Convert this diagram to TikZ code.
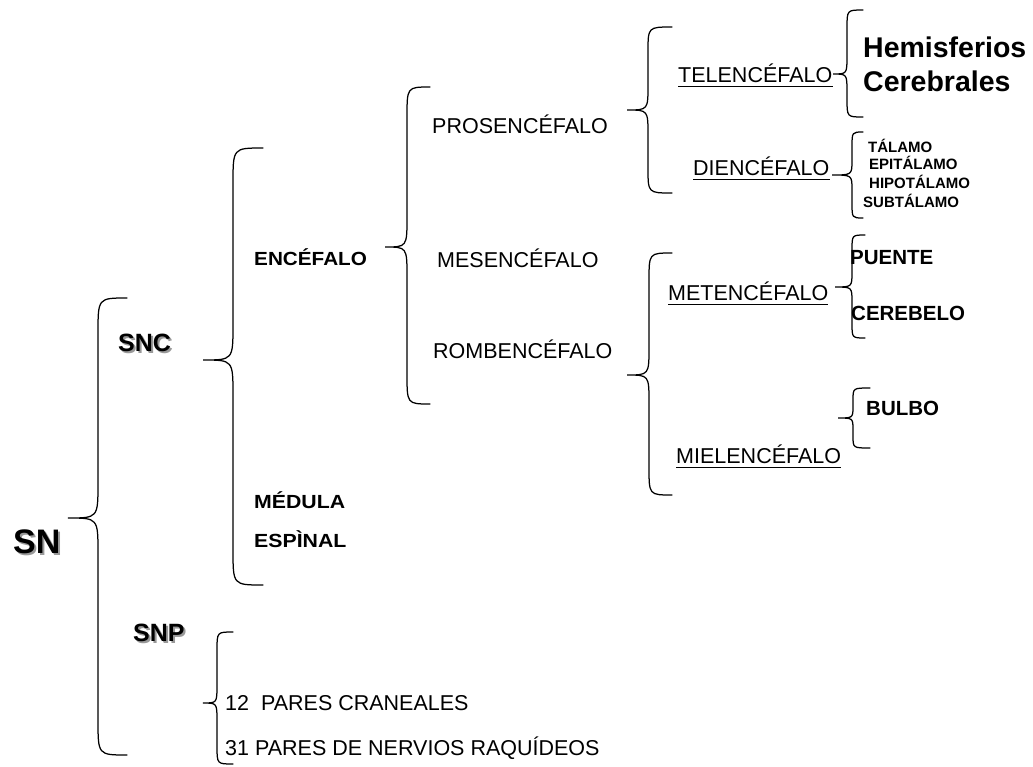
\documentclass[tikz,border=0pt]{standalone}
\usepackage{fontspec}
\usepackage{graphicx}
\setmainfont{Liberation Sans}
\newcommand\drawcurly[7]{%
  \draw[bracestyle] (#1,#4) .. controls (#2,#4) .. (#2,#4+#7) -- (#2,#5-#7)
    .. controls (#2,#5) .. (#3,#5) .. controls (#2,#5) .. (#2,#5+#7)
    -- (#2,#6-#7) .. controls (#2,#6) .. (#1,#6);}
\begin{document}
\begin{tikzpicture}[x=1pt,y=-1pt,
  bracestyle/.style={line width=1.25pt, line cap=round},
  lab/.style={anchor=base west, inner sep=0pt, font=\fontsize{21.5}{25}\selectfont},
  blab/.style={anchor=base west, inner sep=0pt, font=\bfseries\fontsize{20.5}{24}\selectfont},
  wlab/.style={anchor=base west, inner sep=0pt, font=\bfseries\fontsize{19}{23}\selectfont},
  slab/.style={anchor=base west, inner sep=0pt, font=\bfseries\fontsize{15}{18}\selectfont},
  big/.style={anchor=base west, inner sep=0pt, font=\bfseries\fontsize{28.5}{34}\selectfont},
  snfont/.style={font=\bfseries\fontsize{34}{40}\selectfont},
  subfont/.style={font=\bfseries\fontsize{25}{30}\selectfont},
  shad/.style={anchor=base west, inner sep=0pt, text=black!40},
  tit/.style={anchor=base west, inner sep=0pt},
  ul/.style={line width=1.1pt}]
\useasboundingbox (0,0) rectangle (1033,766);

% braces
\drawcurly{127}{98}{68}{298}{518}{755}{35}
\drawcurly{263}{233}{203}{148}{360}{585}{35}
\drawcurly{430}{407}{385}{87}{247}{404}{30}
\drawcurly{672}{648}{627}{27}{110}{193}{25}
\drawcurly{672}{649}{627}{253}{375}{495}{28}
\drawcurly{863}{847}{833}{10}{74}{117}{18}
\drawcurly{863}{852}{832}{132}{175}{218}{15}
\drawcurly{865}{852}{835}{235}{287}{338}{15}
\drawcurly{870}{853}{838}{388}{418}{448}{12}
\drawcurly{233}{217}{203}{632}{703}{764}{18}

% shadowed titles
\node[shad, snfont] (snsh) at (15,555) {SN};
\node[tit, snfont] (sn) at (13,553) {SN};
\node[shad, subfont] (sncsh) at (120,353) {SNC};
\node[tit, subfont] (snc) at (118,351) {SNC};
\node[shad, subfont] (snpsh) at (135,643) {SNP};
\node[tit, subfont] (snp) at (133,641) {SNP};

% level 2
\node[wlab] (enc) at (254,265) {\scalebox{1.09}[1]{ENCÉFALO}};
\node[wlab] (med) at (254,508) {\scalebox{1.12}[1]{MÉDULA}};
\node[wlab] (esp) at (254,547) {\scalebox{1.12}[1]{ESPÌNAL}};

% level 3
\node[lab] (pros) at (432,133) {PROSENCÉFALO};
\node[lab] (mes) at (437,267) {MESENCÉFALO};
\node[lab] (romb) at (433,358) {ROMBENCÉFALO};

% level 4 (underlined)
\node[lab] (tel) at (678,82) {TELENCÉFALO};
\node[lab] (die) at (693,175) {DIENCÉFALO};
\node[lab] (met) at (668,300) {METENCÉFALO};
\node[lab] (mie) at (676,463) {MIELENCÉFALO};
\foreach \n in {tel,die,met,mie}
  \draw[ul] ([yshift=-4.5pt]\n.base west) -- ([yshift=-4.5pt]\n.base east);

% level 5
\node[big] (hem) at (863,57) {Hemisferios};
\node[big] (cer) at (863,91) {Cerebrales};
\node[slab] (tal) at (868,152) {TÁLAMO};
\node[slab] (epi) at (869,169) {EPITÁLAMO};
\node[slab] (hip) at (869,188) {HIPOTÁLAMO};
\node[slab] (sub) at (863,207) {SUBTÁLAMO};
\node[blab] (pue) at (850,264) {PUENTE};
\node[blab] (cbl) at (851,320) {CEREBELO};
\node[blab] (bul) at (866,415) {BULBO};

% SNP
\node[lab] (pc) at (225,710) {12~\ PARES CRANEALES};
\node[lab] (pr) at (225,755) {31 PARES DE NERVIOS RAQUÍDEOS};
\end{tikzpicture}
\end{document}
